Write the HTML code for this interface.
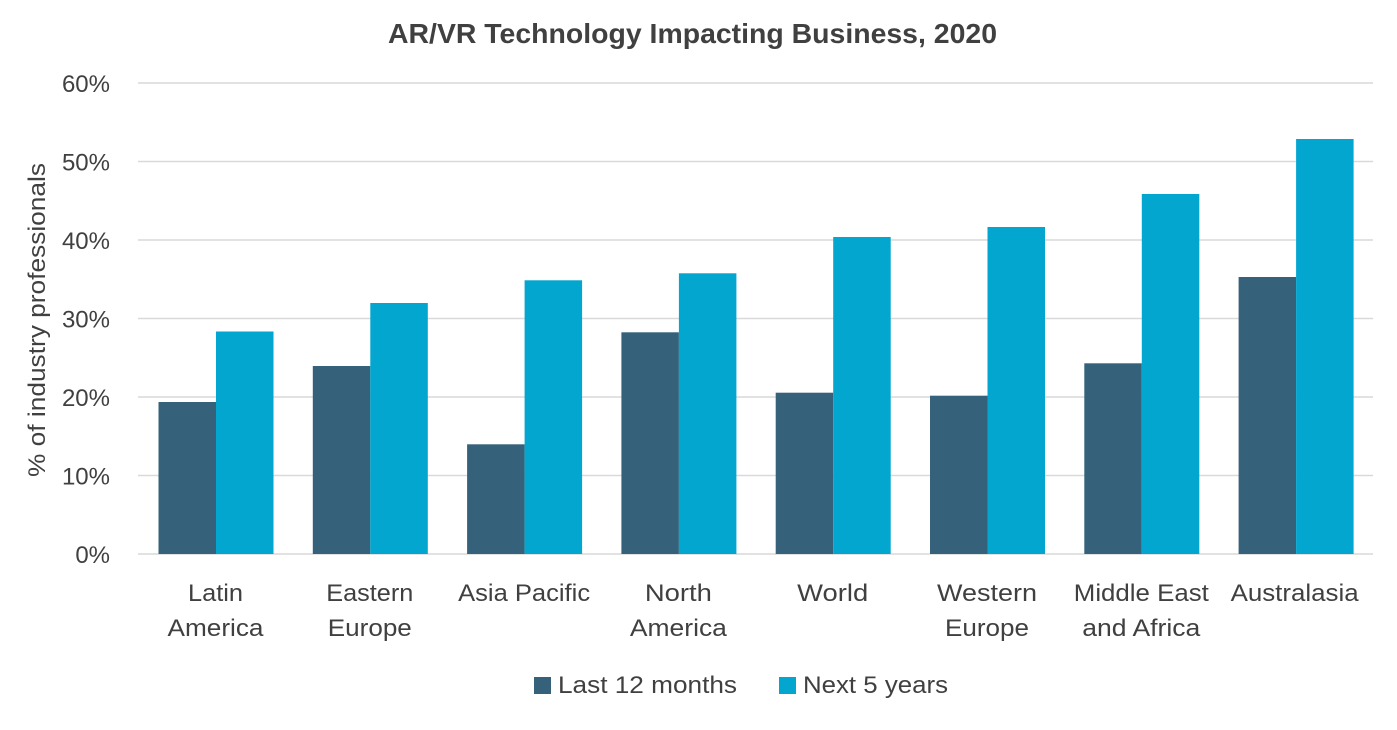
<!DOCTYPE html>
<html>
<head>
<meta charset="utf-8">
<style>
  html, body { margin: 0; padding: 0; background: #ffffff; }
  svg { display: block; }
  text { font-family: "Liberation Sans", "DejaVu Sans", sans-serif; fill: #404040; }
</style>
</head>
<body>
<svg width="1397" height="730" viewBox="0 0 1397 730" xmlns="http://www.w3.org/2000/svg">
  <rect x="0" y="0" width="1397" height="730" fill="#ffffff"/>

  <!-- Title -->
  <text x="692.5" y="43" text-anchor="middle" font-size="28" font-weight="bold" textLength="609" lengthAdjust="spacingAndGlyphs">AR/VR Technology Impacting Business, 2020</text>

  <!-- Gridlines -->
  <g stroke="#d9d9d9" stroke-width="1.5">
    <line x1="138" y1="83" x2="1373" y2="83"/>
    <line x1="138" y1="161.5" x2="1373" y2="161.5"/>
    <line x1="138" y1="240" x2="1373" y2="240"/>
    <line x1="138" y1="318.5" x2="1373" y2="318.5"/>
    <line x1="138" y1="397" x2="1373" y2="397"/>
    <line x1="138" y1="475.5" x2="1373" y2="475.5"/>
    <line x1="138" y1="554" x2="1373" y2="554"/>
  </g>

  <!-- Y tick labels -->
  <g font-size="24" text-anchor="end">
    <text x="110" y="92">60%</text>
    <text x="110" y="170.5">50%</text>
    <text x="110" y="249">40%</text>
    <text x="110" y="327.5">30%</text>
    <text x="110" y="406">20%</text>
    <text x="110" y="484.5">10%</text>
    <text x="110" y="563">0%</text>
  </g>

  <!-- Y axis title -->
  <text transform="translate(45,320) rotate(-90)" text-anchor="middle" font-size="24" textLength="314" lengthAdjust="spacingAndGlyphs">% of industry professionals</text>

  <!-- Bars: dark -->
  <g fill="#35627a">
    <rect x="158.5" y="402" width="57.5" height="152"/>
    <rect x="312.8" y="366" width="57.5" height="188"/>
    <rect x="467.1" y="444.3" width="57.5" height="109.7"/>
    <rect x="621.4" y="332.3" width="57.5" height="221.7"/>
    <rect x="775.7" y="392.7" width="57.5" height="161.3"/>
    <rect x="930" y="395.7" width="57.5" height="158.3"/>
    <rect x="1084.3" y="363.3" width="57.5" height="190.7"/>
    <rect x="1238.6" y="277" width="57.5" height="277"/>
  </g>
  <!-- Bars: light -->
  <g fill="#02a6cf">
    <rect x="216" y="331.5" width="57.5" height="222.5"/>
    <rect x="370.3" y="303" width="57.5" height="251"/>
    <rect x="524.6" y="280.3" width="57.5" height="273.7"/>
    <rect x="678.9" y="273.3" width="57.5" height="280.7"/>
    <rect x="833.2" y="237" width="57.5" height="317"/>
    <rect x="987.5" y="227" width="57.5" height="327"/>
    <rect x="1141.8" y="194" width="57.5" height="360"/>
    <rect x="1296.1" y="139" width="57.5" height="415"/>
  </g>

  <!-- Category labels -->
  <g font-size="24" text-anchor="middle">
    <text x="215.5" y="601" textLength="55" lengthAdjust="spacingAndGlyphs">Latin</text>
    <text x="215.5" y="636" textLength="96" lengthAdjust="spacingAndGlyphs">America</text>

    <text x="369.8" y="601" textLength="87" lengthAdjust="spacingAndGlyphs">Eastern</text>
    <text x="369.8" y="636" textLength="84" lengthAdjust="spacingAndGlyphs">Europe</text>

    <text x="524.1" y="601" textLength="132" lengthAdjust="spacingAndGlyphs">Asia Pacific</text>

    <text x="678.4" y="601" textLength="67" lengthAdjust="spacingAndGlyphs">North</text>
    <text x="678.4" y="636" textLength="97" lengthAdjust="spacingAndGlyphs">America</text>

    <text x="832.7" y="601" textLength="71" lengthAdjust="spacingAndGlyphs">World</text>

    <text x="987" y="601" textLength="100" lengthAdjust="spacingAndGlyphs">Western</text>
    <text x="987" y="636" textLength="84" lengthAdjust="spacingAndGlyphs">Europe</text>

    <text x="1141.3" y="601" textLength="135" lengthAdjust="spacingAndGlyphs">Middle East</text>
    <text x="1141.3" y="636" textLength="118" lengthAdjust="spacingAndGlyphs">and Africa</text>

    <text x="1294.6" y="601" textLength="128" lengthAdjust="spacingAndGlyphs">Australasia</text>
  </g>

  <!-- Legend -->
  <rect x="534" y="677" width="17" height="17" fill="#35627a"/>
  <text x="558" y="693" font-size="24" textLength="179" lengthAdjust="spacingAndGlyphs">Last 12 months</text>
  <rect x="779" y="677" width="17" height="17" fill="#02a6cf"/>
  <text x="803" y="693" font-size="24" textLength="145" lengthAdjust="spacingAndGlyphs">Next 5 years</text>
</svg>
</body>
</html>
